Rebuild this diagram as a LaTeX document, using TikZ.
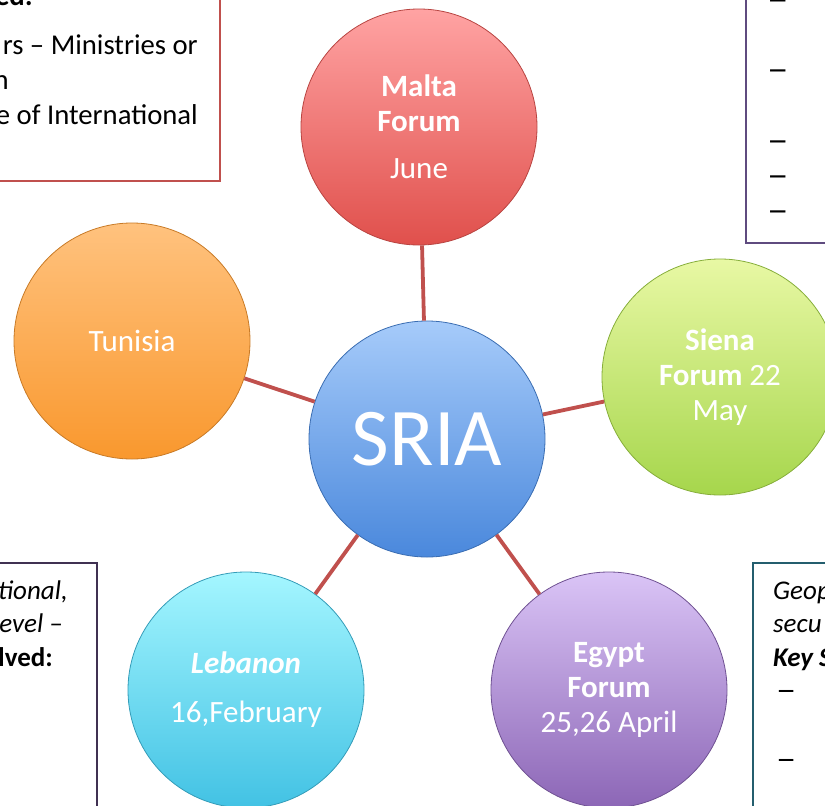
\documentclass[tikz,border=0pt]{standalone}
\usepackage{fontspec}
\setmainfont{Carlito}
\definecolor{linkred}{HTML}{C0504D}
\definecolor{tlc}{HTML}{C0504D}
\definecolor{trc}{HTML}{5F4B7F}
\definecolor{blc}{HTML}{403152}
\definecolor{brc}{HTML}{245E6E}
\definecolor{maltaT}{HTML}{FFA3A3}
\definecolor{maltaB}{HTML}{E0504C}
\definecolor{maltaD}{HTML}{B84441}
\definecolor{sienaT}{HTML}{E8F8A4}
\definecolor{sienaB}{HTML}{A6D64C}
\definecolor{sienaD}{HTML}{86AE3A}
\definecolor{tunT}{HTML}{FFC27E}
\definecolor{tunB}{HTML}{F9982E}
\definecolor{tunD}{HTML}{C87A26}
\definecolor{sriaT}{HTML}{A6CBFA}
\definecolor{sriaB}{HTML}{4A88DC}
\definecolor{sriaD}{HTML}{3A6DB2}
\definecolor{lebT}{HTML}{A4F6FF}
\definecolor{lebB}{HTML}{42C2E4}
\definecolor{lebD}{HTML}{349CB8}
\definecolor{egyT}{HTML}{DAC4F6}
\definecolor{egyB}{HTML}{8C66B6}
\definecolor{egyD}{HTML}{6F5192}
\newcommand{\wdash}{\scalebox{1.5}[1.2]{–}}
\begin{document}
\begin{tikzpicture}[x=1pt,y=-1pt,
  conn/.style={draw=linkred,line width=3.8pt},
  bubble/.style={circle,minimum size=236pt,inner sep=0pt,text=white,align=center,
    font=\fontsize{31}{35}\selectfont,line width=0.8pt},
  frame/.style={line width=2pt},
  boxtxt/.style={inner sep=0pt,font=\fontsize{28.7}{35}\selectfont},
  boxtxtb/.style={inner sep=0pt,font=\fontsize{27}{33}\selectfont}
]
\useasboundingbox (0,0) rectangle (825,806);
\clip (0,0) rectangle (825,806);

% text boxes
\draw[frame,draw=tlc] (-10,-10) rectangle (220,181);
\node[boxtxt,anchor=base east] (tl0) at (33,5) {\textbf{ed:}};
\node[boxtxt,anchor=base east] (tl1) at (198,54.5) {rs – Ministries or};
\node[boxtxt,anchor=base east] (tl2) at (9,89.5) {n};
\node[boxtxt,anchor=base east] (tl3) at (198,124.5) {e of International};

\draw[frame,draw=trc] (746,-10) rectangle (835,243);
\node[boxtxt,anchor=base west] (tr1) at (767,10) {\wdash};
\node[boxtxt,anchor=base west] (tr2) at (767,80) {\wdash};
\node[boxtxt,anchor=base west] (tr3) at (767,151) {\wdash};
\node[boxtxt,anchor=base west] (tr4) at (767,186) {\wdash};
\node[boxtxt,anchor=base west] (tr5) at (767,221) {\wdash};

\draw[frame,draw=blc] (-10,563) rectangle (97,816);
\node[boxtxtb,anchor=base east] (bl1) at (68,599) {\textit{tional,}};
\node[boxtxtb,anchor=base east] (bl2) at (63,632) {\textit{evel –}};
\node[boxtxtb,anchor=base east] (bl3) at (53,666) {\textbf{lved:}};

\draw[frame,draw=brc] (753,563) rectangle (835,816);
\node[boxtxtb,anchor=base west] (br1) at (773,599) {\textit{Geop}};
\node[boxtxtb,anchor=base west] (br2) at (773,632) {\textit{secu}};
\node[boxtxtb,anchor=base west] (br3) at (773,666) {\textbf{\textit{Key S}}};
\node[boxtxtb,anchor=base west] (br4) at (776,700.5) {\wdash};
\node[boxtxtb,anchor=base west] (br5) at (776,769.5) {\wdash};

% bubbles
\node[bubble,top color=sriaT,bottom color=sriaB,draw=sriaD] (sria) at (427,439)
  {\fontsize{82}{90}\selectfont SRIA};
\node[bubble,top color=maltaT,bottom color=maltaB,draw=maltaD] (malta) at (419,127)
  {\textbf{Malta}\\\textbf{Forum}\\[12pt]June};
\node[bubble,top color=sienaT,bottom color=sienaB,draw=sienaD] (siena) at (720,377)
  {\textbf{Siena}\\\textbf{Forum} 22\\May};
\node[bubble,top color=tunT,bottom color=tunB,draw=tunD] (tunisia) at (132,341)
  {Tunisia};
\node[bubble,top color=lebT,bottom color=lebB,draw=lebD] (lebanon) at (246,690)
  {\textbf{\textit{Lebanon}}\\[14pt]16,February};
\node[bubble,top color=egyT,bottom color=egyB,draw=egyD] (egypt) at (609,690)
  {\textbf{Egypt}\\\textbf{Forum}\\25,26 April};

% connectors
\draw[conn] (sria) -- (malta);
\draw[conn] (sria) -- (siena);
\draw[conn] (sria) -- (tunisia);
\draw[conn] (sria) -- (lebanon);
\draw[conn] (sria) -- (egypt);
\end{tikzpicture}
\end{document}
